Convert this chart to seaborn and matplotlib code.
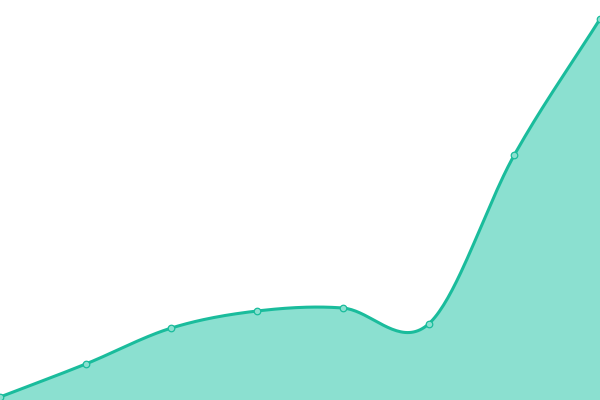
import numpy as np
import pandas as pd
import matplotlib
matplotlib.use("Agg")
import matplotlib.pyplot as plt
import seaborn as sns

# data
steps = [0, 1, 2, 3, 4, 5, 6, 7]
values = [3, 36, 72, 89, 92, 76, 245, 381]

line_color = "#1abc9c"
fill_color = "#8be0d0"


def catmull_rom(xs, ys, n=40):
    # smooth path through the points (standard Catmull-Rom, like a "smooth" line)
    xs = np.asarray(xs, float)
    ys = np.asarray(ys, float)
    px = np.concatenate([[2 * xs[0] - xs[1]], xs, [2 * xs[-1] - xs[-2]]])
    py = np.concatenate([[2 * ys[0] - ys[1]], ys, [2 * ys[-1] - ys[-2]]])
    out_x, out_y = [], []
    t = np.linspace(0, 1, n, endpoint=False)
    for i in range(1, len(px) - 2):
        for p, out in ((px, out_x), (py, out_y)):
            p0, p1, p2, p3 = p[i - 1], p[i], p[i + 1], p[i + 2]
            seg = 0.5 * ((2 * p1) + (-p0 + p2) * t
                         + (2 * p0 - 5 * p1 + 4 * p2 - p3) * t ** 2
                         + (-p0 + 3 * p1 - 3 * p2 + p3) * t ** 3)
            out.extend(seg)
    out_x.append(xs[-1])
    out_y.append(ys[-1])
    return np.array(out_x), np.array(out_y)


sx, sy = catmull_rom(steps, values)
curve = pd.DataFrame({"x": sx, "y": sy})
points = pd.DataFrame({"x": steps, "y": values})

sns.set_theme(style="white")
fig = plt.figure(figsize=(6, 4), dpi=100)
ax = fig.add_axes([0, 0, 1, 1])

ax.fill_between(curve["x"], curve["y"], 0, color=fill_color, linewidth=0)
sns.lineplot(data=curve, x="x", y="y", ax=ax, color=line_color, linewidth=2.2,
             sort=False, estimator=None)
sns.scatterplot(data=points, x="x", y="y", ax=ax, s=22, color=fill_color,
                edgecolor=line_color, linewidth=0.9, zorder=5)

ax.set_xlim(0, 7)
ax.set_ylim(0, 400)
ax.set_axis_off()

plt.savefig("out.png", dpi=100)
plt.close()
